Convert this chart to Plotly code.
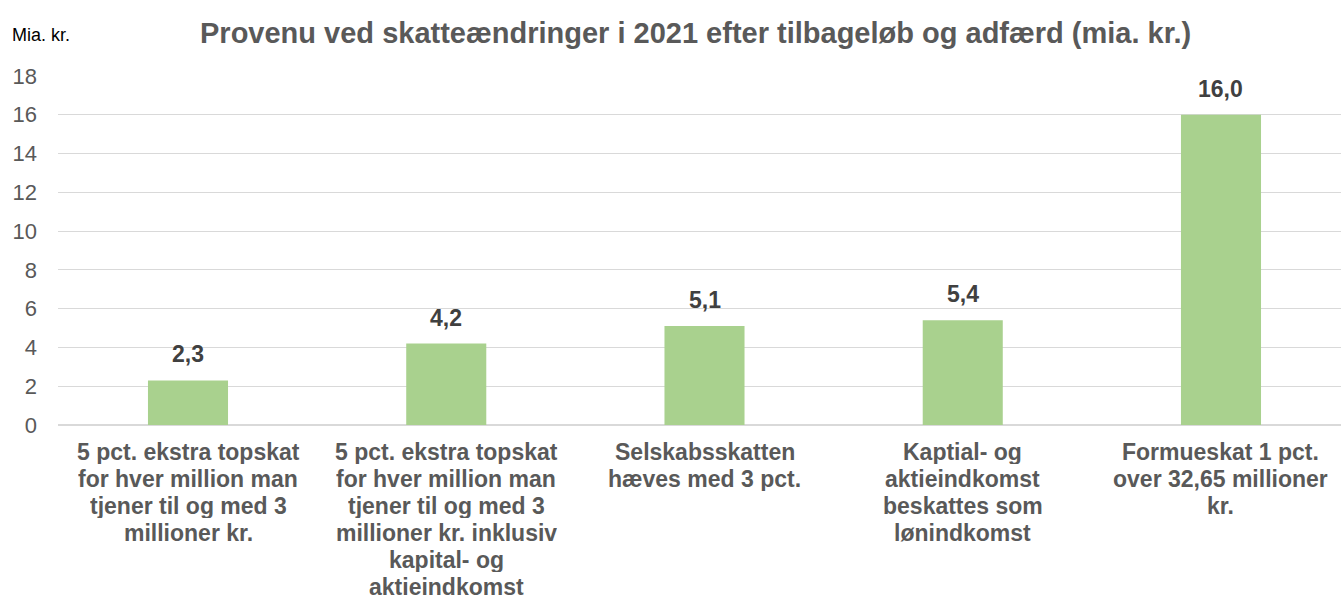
import plotly.graph_objects as go

category_lines = [
    ["5 pct. ekstra topskat", "for hver million man", "tjener til og med 3", "millioner kr."],
    ["5 pct. ekstra topskat", "for hver million man", "tjener til og med 3", "millioner kr. inklusiv", "kapital- og", "aktieindkomst"],
    ["Selskabsskatten", "hæves med 3 pct."],
    ["Kaptial- og", "aktieindkomst", "beskattes som", "lønindkomst"],
    ["Formueskat 1 pct.", "over 32,65 millioner", "kr."],
]
categories = [" ".join(lines) for lines in category_lines]
values = [2.3, 4.2, 5.1, 5.4, 16.0]
labels = [f"{v:.1f}".replace(".", ",") for v in values]
y_ticks = [0, 2, 4, 6, 8, 10, 12, 14, 16, 18]

FONT = "Liberation Sans, Arial, sans-serif"
LINE_H = 27.0

fig = go.Figure(go.Bar(
    x=categories, y=values,
    marker=dict(color="#A9D18E", line=dict(width=0)),
    width=0.31,
    hoverinfo="skip",
))

annotations = []
# value labels above bars
for cat, v, lab in zip(categories, values, labels):
    annotations.append(dict(
        x=cat, y=v, xref="x", yref="y", text=f"<b>{lab}</b>",
        showarrow=False, yanchor="bottom", xanchor="center", yshift=11,
        font=dict(family=FONT, size=23, color="#404040"),
    ))
# category labels (one annotation per line for tight line spacing)
for cat, lines in zip(categories, category_lines):
    for i, line in enumerate(lines):
        annotations.append(dict(
            x=cat, y=0, xref="x", yref="y", text=f"<b>{line}</b>",
            showarrow=False, yanchor="middle", xanchor="center",
            yshift=-(27.0 + LINE_H * i), height=24,
            font=dict(family=FONT, size=23, color="#595959"),
        ))
annotations.append(dict(
    text="Mia. kr.", xref="paper", yref="paper", x=-0.0374, y=1.1175,
    xanchor="left", yanchor="middle", showarrow=False,
    font=dict(family=FONT, size=18, color="#000000"),
))

fig.update_layout(
    width=1341, height=600,
    margin=dict(l=58, r=0, t=76, b=175),
    paper_bgcolor="white", plot_bgcolor="white",
    showlegend=False,
    title=dict(
        text="<b>Provenu ved skatteændringer i 2021 efter tilbageløb og adfærd (mia. kr.)</b>",
        x=0.5187, xanchor="center", y=0.945, yanchor="middle",
        font=dict(family=FONT, size=29, color="#595959"),
    ),
    xaxis=dict(
        range=[-0.5034, 4.4647],
        showticklabels=False,
        showgrid=False, ticks="", showline=True, linecolor="#d9d9d9", linewidth=1,
        automargin=False, fixedrange=True,
    ),
    yaxis=dict(
        range=[0, 18], tickvals=y_ticks,
        tickfont=dict(family=FONT, size=22, color="#595959"),
        showgrid=True, gridcolor="#d9d9d9", gridwidth=1,
        zeroline=True, zerolinecolor="#d9d9d9",
        ticks="", ticklabelstandoff=20, automargin=False, fixedrange=True,
    ),
    annotations=annotations,
)

fig.write_html(
    "out.html",
    config={"displayModeBar": False},
    post_script="document.body.style.margin='0';document.body.style.overflow='hidden';",
)
